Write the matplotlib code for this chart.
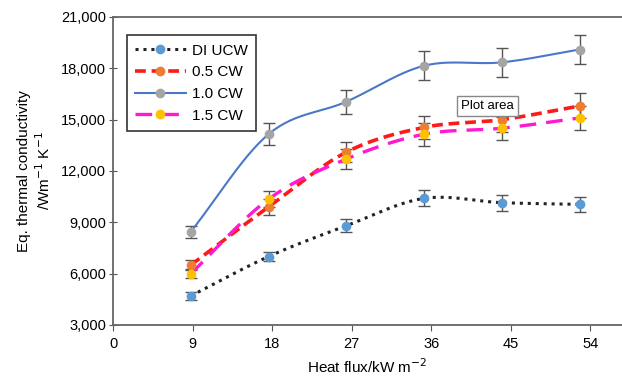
import numpy as np
import matplotlib
matplotlib.use("Agg")
import matplotlib.pyplot as plt
from matplotlib.lines import Line2D

plt.rcParams['font.family'] = ['Liberation Sans', 'DejaVu Sans']

heat_flux = [8.8, 17.6, 26.4, 35.2, 44.0, 52.8]
series_names = ["DI UCW", "0.5 CW", "1.0 CW", "1.5 CW"]
di_ucw = [4700, 7000, 8800, 10400, 10150, 10050]
cw_05 = [6500, 9900, 13100, 14550, 15000, 15800]
cw_10 = [8450, 14150, 16050, 18150, 18350, 19100]
cw_15 = [6000, 10350, 12700, 14150, 14500, 15100]
err_di = [250, 250, 380, 470, 460, 450]
err_05 = [300, 460, 600, 680, 700, 730]
err_10 = [350, 640, 710, 840, 850, 870]
err_15 = [280, 480, 590, 660, 670, 700]
x_ticks = [0, 9, 18, 27, 36, 45, 54]
y_ticks = [3000, 6000, 9000, 12000, 15000, 18000, 21000]

line_colors = ["#222222", "#FF1A1A", "#4A78C8", "#FF1ACF"]
marker_colors = ["#5B9BD5", "#ED7D31", "#A5A5A5", "#FFC000"]
styles = [(0, (1, 1.6)), (0, (3, 1.6)), "-", (0, (5, 3))]
widths = [2.2, 2.6, 1.5, 2.4]


def smooth(x, y, n=30):
    x = np.asarray(x, float)
    y = np.asarray(y, float)
    px = np.concatenate([[2 * x[0] - x[1]], x, [2 * x[-1] - x[-2]]])
    py = np.concatenate([[2 * y[0] - y[1]], y, [2 * y[-1] - y[-2]]])
    xs, ys = [], []
    t = np.linspace(0, 1, n)
    for i in range(1, len(px) - 2):
        p0, p1, p2, p3 = (np.array([px[j], py[j]]) for j in range(i - 1, i + 3))
        c1 = p1 + (p2 - p0) / 6.0
        c2 = p2 - (p3 - p1) / 6.0
        pts = ((1 - t) ** 3)[:, None] * p1 + (3 * (1 - t) ** 2 * t)[:, None] * c1 \
            + (3 * (1 - t) * t ** 2)[:, None] * c2 + (t ** 3)[:, None] * p2
        xs.extend(pts[:, 0])
        ys.extend(pts[:, 1])
    return np.array(xs), np.array(ys)


fig = plt.figure(figsize=(6.22, 3.81), dpi=100)
ax = fig.add_axes([113 / 622, 1 - 325 / 381, 1 - 113 / 622, (325 - 17) / 381])

all_y = [di_ucw, cw_05, cw_10, cw_15]
all_e = [err_di, err_05, err_10, err_15]
handles = []
for i in range(4):
    ax.errorbar(heat_flux, all_y[i], yerr=all_e[i], fmt='none', ecolor='#555555',
                elinewidth=1.0, capsize=4, capthick=1.0, zorder=2)
    sx, sy = smooth(heat_flux, all_y[i])
    ax.plot(sx, sy, color=line_colors[i], linestyle=styles[i], linewidth=widths[i], zorder=3)
    ax.plot(heat_flux, all_y[i], linestyle='none', marker='o', markersize=7,
            color=marker_colors[i], markeredgewidth=0, zorder=4)
    handles.append(Line2D([], [], color=line_colors[i], linestyle=styles[i], linewidth=widths[i],
                          marker='o', markersize=7, markerfacecolor=marker_colors[i],
                          markeredgewidth=0))

ax.set_xlim(0, 57.6)
ax.set_ylim(3000, 21000)
ax.set_xticks(x_ticks)
ax.set_yticks(y_ticks)
ax.set_yticklabels([f"{v:,}" for v in y_ticks])
ax.tick_params(axis='y', direction='inout', length=6, color='#555555', labelsize=10.5, pad=2)
ax.tick_params(axis='x', direction='out', length=4, color='#555555', labelsize=10.5, pad=5)
for s in ['left', 'bottom', 'top']:
    ax.spines[s].set_color('#666666')
    ax.spines[s].set_linewidth(1.3)
ax.spines['right'].set_visible(False)

ax.set_xlabel("Heat flux/kW m$^{-2}$", fontsize=11, labelpad=4)
ax.set_ylabel("Eq. thermal conductivity\n/Wm$^{-1}$ K$^{-1}$", fontsize=11, labelpad=6)

leg = ax.legend(handles, series_names, loc='upper left', bbox_to_anchor=(0.012, 0.965),
                fontsize=11, frameon=True, fancybox=False, edgecolor='black',
                handlelength=3.3, handletextpad=0.4, labelspacing=0.5, borderpad=0.55)
leg.get_frame().set_linewidth(1.2)

ax.text(0.735, 0.711, "Plot area", transform=ax.transAxes, fontsize=9.5, ha='center', va='center',
        bbox=dict(boxstyle='square,pad=0.32', facecolor='white', edgecolor='#888888', linewidth=1.0),
        zorder=6)

fig.savefig("out.png", dpi=100)
